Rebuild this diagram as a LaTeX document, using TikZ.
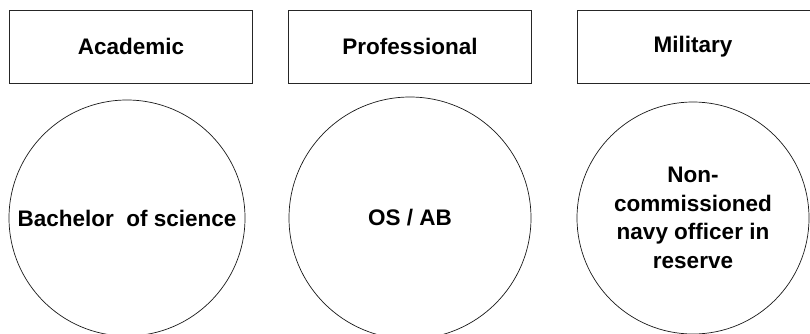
\documentclass[tikz,border=0pt]{standalone}
\usepackage{fontspec}
\setmainfont{Liberation Sans}
\usepackage{tikz}
\usetikzlibrary{positioning}

\tikzset{
  headbox/.style={draw=black!85, line width=0.8pt, minimum width=243pt,
    minimum height=73pt, inner sep=0pt, font=\fontsize{22.5}{28}\selectfont\bfseries},
  levelcircle/.style={draw=black!90, line width=0.7pt, circle, minimum size=236pt,
    inner sep=0pt, align=center, font=\fontsize{22.5}{28.5}\selectfont\bfseries}
}

\begin{document}
\begin{tikzpicture}[x=1pt, y=-1pt]
  \clip (0,0) rectangle (810,333);
  % category headers
  \node[headbox] (academic)     at (131,46.5)   {Academic};
  \node[headbox] (professional) at (410,46.5)   {Professional};
  \node[headbox] (military)     at (698.5,46.5) {\hspace*{-11pt}Military};
  % qualifications
  \node[levelcircle] (bsc)   at (127,218) {Bachelor\ \ of science};
  \node[levelcircle, minimum size=242pt] (osab) at (410,218) {OS / AB};
  \node[levelcircle, minimum size=232pt] (navy) at (693,218)
    {Non-\\commissioned\\navy officer in\\reserve};
\end{tikzpicture}
\end{document}
